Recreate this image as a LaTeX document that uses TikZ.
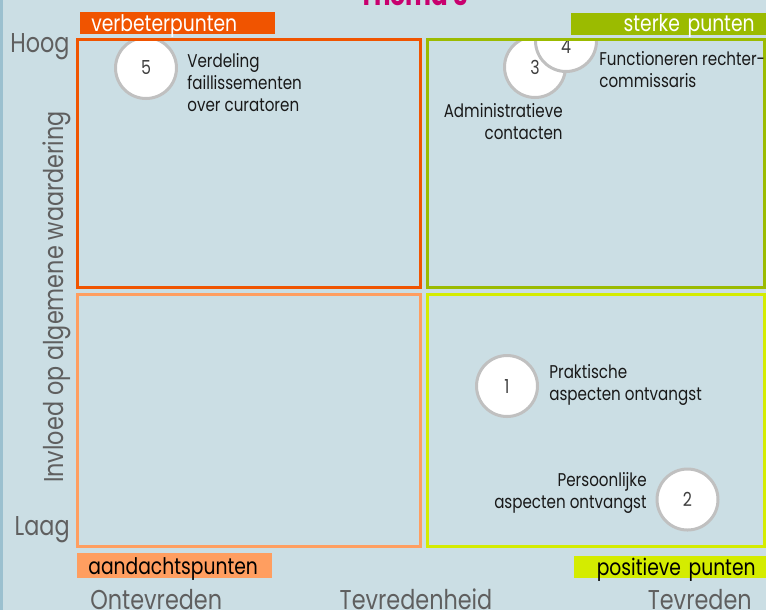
\documentclass[tikz,border=0pt]{standalone}
\usepackage{fontspec}
\setmainfont[FakeStretch=0.82]{Poppins}
\usepackage{xcolor}
\usepackage{tikz}

\definecolor{bgblue}{RGB}{203,222,228}
\definecolor{edgeblue}{RGB}{155,192,207}
\definecolor{weakred}{RGB}{240,84,0}
\definecolor{strongolive}{RGB}{155,187,0}
\definecolor{noteorange}{RGB}{255,158,96}
\definecolor{goodlime}{RGB}{212,236,0}
\definecolor{axisgray}{RGB}{95,95,95}
\definecolor{ringgray}{RGB}{192,192,192}
\definecolor{titlepink}{RGB}{200,0,110}

\begin{document}
\begin{tikzpicture}[x=0.02cm, y=-0.02cm,
        quad/.style={line width=0.06cm},
        tag/.style={minimum height=0.44cm, inner ysep=0pt, inner xsep=0.22cm, text width=3.46cm,
            text height=0.36cm, text depth=0.04cm, font=\fontsize{13pt}{15pt}\selectfont},
        digit/.style={text=black!75, font=\fontsize{11pt}{13pt}\selectfont},
        bubble/.style={circle, draw=ringgray, fill=white, line width=0.06cm, minimum size=1.22cm,
            inner sep=0pt, digit},
        item/.style={inner sep=0pt, text=black!90, font=\fontsize{10.5pt}{12.5pt}\selectfont},
        axis/.style={inner sep=0pt, text=axisgray, font=\fontsize{15.5pt}{19pt}\selectfont}]

        \useasboundingbox (0, 0) rectangle (766, 610);
        \fill[bgblue] (0, 0) rectangle (766, 610);
        \fill[edgeblue] (0, 0) rectangle (3, 610);

        \node[anchor=base, text=titlepink, font=\fontsize{17pt}{20pt}\selectfont\bfseries] at (414, 5) (title) {Thema 3};

        % bubbles stay below the top edge of the quadrants
        \begin{scope}
            \clip (0, 38) rectangle (766, 610);
            \node[bubble] at (146, 68) (c5) {5};
            \node[bubble] at (535, 67) (c3) {3};
            \node[bubble, label={[digit, yshift=-0.12cm]center:4}] at (566, 41) (c4) {};
            \node[bubble] at (507, 386) (c1) {1};
            \node[bubble] at (687.5, 499.5) (c2) {2};
        \end{scope}

        \draw[quad, weakred] (77.5, 39.5) rectangle (420, 287.5);
        \draw[quad, strongolive] (427.5, 39.5) rectangle (764, 287.5);
        \draw[quad, noteorange] (77.5, 294.5) rectangle (420, 546);
        \draw[quad, goodlime] (427.5, 294.5) rectangle (764, 546);

        \node[tag, fill=weakred, text=white, anchor=north west, align=left] at (80, 12) (weak) {verbeterpunten};
        \node[tag, fill=strongolive, text=white, anchor=north east, align=right] at (766, 12.5) (strong) {sterke punten};
        \node[tag, fill=noteorange, text=black, anchor=north west, align=left, minimum height=0.5cm,
            text height=0.38cm, text depth=0.02cm] at (77, 553) (note) {aandachtspunten};
        \node[tag, fill=goodlime, text=black, anchor=north east, align=right, inner xsep=0.2cm, text width=3.44cm] at (766, 556) (good) {positieve punten};

        \node[item, anchor=north west, align=left] at (187, 53) (t5) {Verdeling\\faillissementen\\over curatoren};
        \node[item, anchor=north west, align=left] at (599, 51) (t4) {Functioneren rechter-\\commissaris};
        \node[item, anchor=north east, align=right] at (563, 103) (t3) {Administratieve\\contacten};
        \node[item, anchor=north west, align=left] at (549, 364) (t1) {Praktische\\aspecten ontvangst};
        \node[item, anchor=north east, align=right] at (647, 472) (t2) {Persoonlijke\\aspecten ontvangst};

        \node[axis, anchor=base west] at (10, 52) (high) {Hoog};
        \node[axis, anchor=base east] at (70, 535) (low) {Laag};
        \node[axis, anchor=base west] at (90, 609) (unhappy) {Ontevreden};
        \node[axis, anchor=base] at (416, 609) (xlabel) {Tevredenheid};
        \node[axis, anchor=base east] at (752, 609) (happy) {Tevreden};
        \node[axis, rotate=90, anchor=base] at (63, 297) (ylabel) {Invloed op algemene waardering};
    \end{tikzpicture}
\end{document}
